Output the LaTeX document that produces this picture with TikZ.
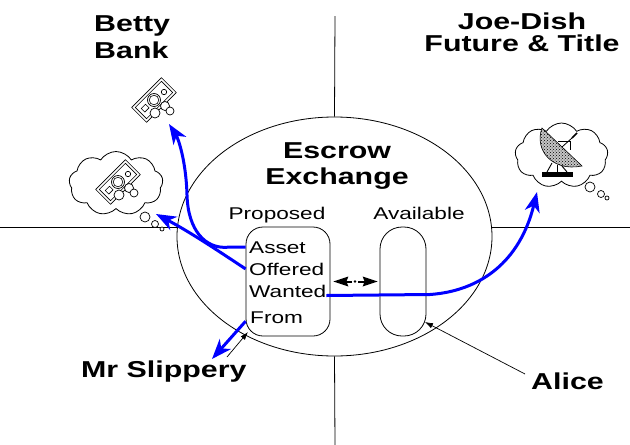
\documentclass[tikz,border=0pt]{standalone}
\usepackage{fontspec}
\setmainfont{Liberation Sans}
\newfontfamily\regw[FakeStretch=1.33]{Liberation Sans}
\newfontfamily\bldw[FakeStretch=1.32]{Liberation Sans}
\usetikzlibrary{arrows.meta,shapes.geometric,shapes.symbols,patterns,calc}
\definecolor{arrblue}{RGB}{0,0,255}
\tikzset{
  money/.pic={
    \begin{scope}[rotate=45]
      \draw[fill=white,line width=0.6pt] (-21,-10.5) rectangle (21,10.5);
      \draw[line width=0.6pt] (-18.5,-8) rectangle (18.5,8);
      \draw[line width=0.6pt] (-15,-3) rectangle (-9,2);
    \end{scope}
    \draw[fill=white,line width=0.7pt] (11,6) circle (4.5);
    \draw[fill=white,line width=0.7pt] (1,13) circle (5);
    \draw[fill=white,line width=0.7pt] (16,11) circle (4);
    \draw[fill=white,line width=0.7pt] (10,-8) circle (2.7);
    \draw[fill=white,line width=0.7pt] (0,0) circle (6.5);
    \draw[line width=0.6pt] (0,0) circle (4.8);
  }
}
\begin{document}
\begin{tikzpicture}[x=1pt,y=-1pt,
  thinl/.style={line width=0.8pt},
  blab/.style={font=\bldw\bfseries\fontsize{23}{27}\selectfont, inner sep=0pt},
  rlab/.style={font=\regw\fontsize{17}{20}\selectfont, inner sep=0pt},
  flow/.style={draw=arrblue, line width=3pt, -{Stealth[length=20pt,width=15pt,inset=6pt]}},
  ptr/.style={draw, line width=0.7pt, -{Latex[length=8pt,width=5.5pt]}},
  bubble/.style={circle, draw, fill=white, line width=0.7pt, inner sep=0pt},
  thought/.style={cloud, draw, fill=white, line width=0.8pt, cloud puffs=9, cloud puff arc=115, inner sep=0pt},
  slot/.style={draw, line width=0.8pt, minimum height=109pt, inner sep=0pt}
]
\useasboundingbox (0,0) rectangle (630,445);

% quadrant lines and ellipse
\node[ellipse, draw, thinl, minimum width=315pt, minimum height=239pt, inner sep=0pt] (esc) at (334.5,236.5) {};
\coordinate (topend) at (335,16);
\coordinate (botend) at (335,445);
\coordinate (leftend) at (0,227);
\coordinate (rightend) at (630,227);
\draw[thinl] (topend) -- (esc.north);
\draw[thinl] (esc.south) -- (botend);
\draw[thinl] (leftend) -- (leftend -| esc.west);
\draw[thinl] (rightend) -- (rightend -| esc.east);

% boxes
\node[slot, rounded corners=17pt, minimum width=84pt] (prop) at (288,281.5) {};
\node[slot, rounded corners=22pt, minimum width=46pt] (avail) at (403,281.5) {};

% labels
\node[blab, align=left, anchor=north west] (betty) at (94,15) {Betty\\Bank};
\node[blab, align=center, anchor=north, font=\bldw\bfseries\fontsize{23}{22}\selectfont] (joe) at (522,13) {Joe-Dish\\Future \& Title};
\node[blab, align=center, anchor=north, font=\bldw\bfseries\fontsize{23}{26}\selectfont] (escl) at (337,142) {Escrow\\Exchange};
\node[blab, anchor=base west] (slip) at (81,377) {Mr Slippery};
\node[blab, anchor=base west] (alice) at (531,389) {Alice};
\node[rlab, anchor=base] (proposed) at (277,219) {Proposed};
\node[rlab, anchor=base] (available) at (419,219) {Available};
\node[rlab, anchor=base west] (asset) at (249,253) {Asset};
\node[rlab, anchor=base west] (offered) at (249,275) {Offered};
\node[rlab, anchor=base west] (wanted) at (249,297) {Wanted};
\node[rlab, anchor=base west] (from) at (250,323) {From};

% thought clouds
\node[thought, minimum width=94pt, minimum height=64pt] (lcloud) at (116,183.5) {};
\node[thought, minimum width=93pt, minimum height=65pt] (rcloud) at (561.5,155.5) {};
\node[bubble, minimum size=10pt] (lb1) at (145,217) {};
\node[bubble, minimum size=7pt] (lb2) at (155,224) {};
\node[bubble, minimum size=4pt] (lb3) at (162,229) {};
\node[bubble, minimum size=10pt] (rb1) at (590,187) {};
\node[bubble, minimum size=7pt] (rb2) at (601,194) {};
\node[bubble, minimum size=4pt] (rb3) at (607,198) {};

% money icons
\pic at (154,100) {money};
\pic at (118,182) {money};

% satellite dish
\fill[gray!45] (542,128) .. controls (534,150) and (552,172) .. (582,166) -- cycle;
\draw[pattern=crosshatch dots, line width=0.6pt] (542,128) .. controls (534,150) and (552,172) .. (582,166) -- cycle;
\draw[line width=0.6pt] (558,141) -- (570,141) -- (570,150);
\draw[line width=0.8pt] (562,147) -- (572,138);
\draw[line width=1.6pt] (572,138) -- (577,133);
\draw[line width=0.9pt] (552,163) -- (547,172);
\draw[line width=0.9pt] (557,165) -- (557,172);
\draw[line width=0.9pt] (562,166) -- (567,172);
\fill (542,172) rectangle (573,177);

% blue flows
\coordinate (bettyTip) at (169,124);
\coordinate (cloudTip) at (156,214);
\coordinate (joeTip) at (537,192);
\coordinate (slipTip) at (212,359);
\draw[flow] (prop.west |- asset.west) -- ++(-18,0) .. controls (205,249) and (188,230) .. (187,195) .. controls (186,160) and (178,138) .. (bettyTip);
\draw[flow] (prop.west |- offered.west) .. controls (220,252) and (190,232) .. (cloudTip);
\draw[flow] ([yshift=1.5pt]wanted.base east) -- (430,294.5) .. controls (480,291) and (520,262) .. (joeTip);
\draw[flow] ($(prop.west |- from.west)+(0,4)$) -- (slipTip);

% exchange arrow (dashed connector with two large heads)
\coordinate (xmid) at ($(prop.east)!0.5!(avail.west)$);
\draw[line width=2pt] ($(prop.east)+(14,0)$) -- ($(xmid)+(-3,0)$);
\draw[line width=2pt] ($(avail.west)+(-13,0)$) -- ($(xmid)+(3,0)$);
\fill ($(prop.east)+(3,0)$) -- ($(prop.east)+(18,-5)$) -- ($(prop.east)+(16,0)$) -- ($(prop.east)+(18,5)$) -- cycle;
\fill ($(avail.west)+(-2,0)$) -- ($(avail.west)+(-17,-5)$) -- ($(avail.west)+(-15,0)$) -- ($(avail.west)+(-17,5)$) -- cycle;
\fill (xmid) circle (1.3);

% pointers
\coordinate (slipFrom) at (227,357);
\coordinate (propCorner) at (248,332);
\coordinate (aliceFrom) at (525,374);
\coordinate (availCorner) at (425,322);
\draw[ptr] (slipFrom) -- (propCorner);
\draw[ptr] (aliceFrom) -- (availCorner);
\end{tikzpicture}
\end{document}
